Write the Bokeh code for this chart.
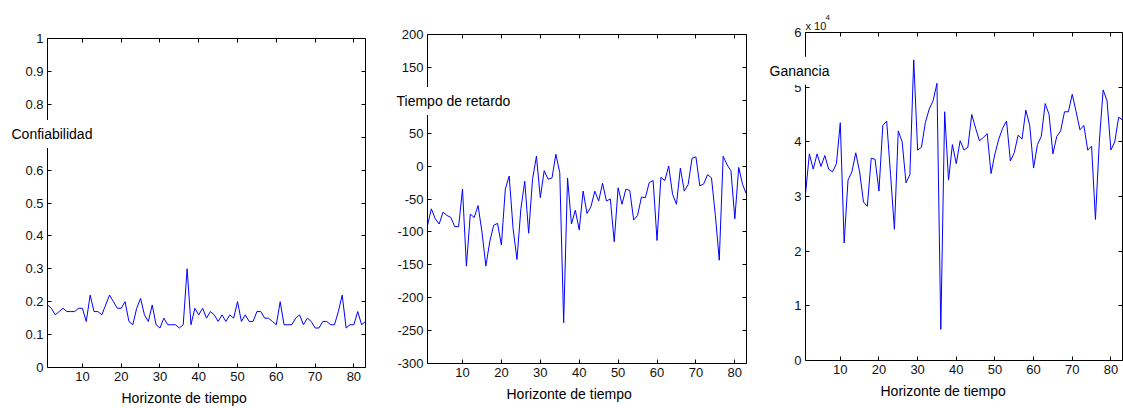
from bokeh.plotting import figure
from bokeh.layouts import row
from bokeh.models import LinearAxis, FixedTicker, CustomJSTickFormatter, Label, Range1d
from bokeh.embed import file_html
from bokeh.resources import INLINE

horizonte = list(range(1, 84))

confiabilidad = [0.19, 0.18, 0.16, 0.17, 0.18, 0.17, 0.17, 0.17, 0.18, 0.18,
                 0.14, 0.22, 0.17, 0.17, 0.16, 0.19, 0.22, 0.20, 0.18, 0.18,
                 0.20, 0.14, 0.13, 0.18, 0.21, 0.16, 0.14, 0.19, 0.13, 0.12,
                 0.15, 0.13, 0.13, 0.13, 0.12, 0.13, 0.30, 0.13, 0.18, 0.16,
                 0.18, 0.15, 0.17, 0.16, 0.14, 0.16, 0.14, 0.16, 0.15, 0.20,
                 0.14, 0.16, 0.14, 0.14, 0.17, 0.17, 0.15, 0.15, 0.14, 0.13,
                 0.20, 0.13, 0.13, 0.13, 0.15, 0.16, 0.13, 0.15, 0.14, 0.12,
                 0.12, 0.14, 0.14, 0.13, 0.13, 0.17, 0.22, 0.12, 0.13, 0.13,
                 0.17, 0.13, 0.14]

retardo = [-90, -65, -80, -88, -70, -75, -78, -92, -92, -35,
           -152, -73, -78, -60, -100, -152, -115, -90, -87, -120,
           -35, -15, -95, -142, -65, -23, -102, -20, 15, -48,
           -7, -20, -18, 18, -10, -238, -18, -88, -67, -97,
           -38, -72, -62, -38, -53, -26, -53, -50, -115, -33,
           -58, -35, -37, -82, -75, -47, -48, -25, -22, -113,
           -17, -22, 0, -43, -58, -3, -38, -28, 12, 14,
           -30, -27, -13, -18, -75, -143, 15, 2, -7, -80,
           -2, -28, -43]

ganancia = [30500, 37800, 35000, 37800, 35500, 37500, 35000, 34500, 36000, 43500,
            21500, 33000, 34500, 38000, 34500, 29000, 28200, 37000, 36800, 31000,
            43000, 43800, 34000, 24000, 42000, 40000, 32500, 34000, 55000, 38500,
            39000, 43500, 46000, 47500, 50700, 5700, 45500, 33000, 39500, 36000,
            40200, 38500, 39000, 45000, 42500, 40200, 40800, 41500, 34200, 37800,
            40500, 42500, 43800, 36500, 38000, 41200, 40500, 45800, 43000, 35200,
            39500, 41000, 47000, 45000, 37800, 41000, 42000, 45500, 45500, 48700,
            45500, 42200, 43000, 38500, 39200, 25800, 40000, 49500, 47500, 38500,
            40000, 44500, 44000]

x_ticks = [10, 20, 30, 40, 50, 60, 70, 80]
y1_ticks = [0, 0.1, 0.2, 0.3, 0.4, 0.5, 0.6, 0.7, 0.8, 0.9, 1]
y2_ticks = [-300, -250, -200, -150, -100, -50, 0, 50, 100, 150, 200]
y3_ticks = [0, 10000, 20000, 30000, 40000, 50000, 60000]

TICK_FONT = "Liberation Sans Narrow, Liberation Sans"
LABEL_FONT = "Liberation Sans"
H = 408
X0, X1 = 1, 83
PAD = 6


def make_panel(y, y0, y1, y_ticks, fmt_code, W, L, R, T, B,
               ylabel, ylabel_y, ylabel_dx, xlabel_dx):
    # ranges chosen so that the box [X0,X1]x[y0,y1] sits at pixels L..R / T..B
    sx = (X1 - X0) / (R - L)
    sy = (y1 - y0) / (B - T)
    xr = Range1d(X0 - L * sx, X1 + (W - R) * sx)
    yr = Range1d(y0 - (H - B) * sy, y1 + T * sy)
    p = figure(width=W, height=H, min_border=0,
               min_border_left=0, min_border_right=0,
               min_border_top=0, min_border_bottom=0,
               x_range=xr, y_range=yr,
               output_backend="svg", toolbar_location=None,
               x_axis_location=None, y_axis_location=None)
    p.outline_line_color = None
    p.xgrid.visible = False
    p.ygrid.visible = False
    p.background_fill_color = "white"
    p.border_fill_color = "white"

    fmt = CustomJSTickFormatter(code=fmt_code)
    xfmt = CustomJSTickFormatter(code="return tick.toString();")
    specs = [("below", y0, True), ("above", y1, False),
             ("left", X0, True), ("right", X1, False)]
    for loc, fixed, labelled in specs:
        ax = LinearAxis(fixed_location=fixed)
        if loc in ("below", "above"):
            ax.ticker = FixedTicker(ticks=x_ticks)
            ax.formatter = xfmt
            ax.bounds = (X0, X1)
        else:
            ax.ticker = FixedTicker(ticks=y_ticks)
            ax.formatter = fmt
            ax.bounds = (y0, y1)
        ax.major_tick_in = 4
        ax.major_tick_out = 0
        ax.minor_tick_line_color = None
        ax.axis_line_color = "black"
        ax.axis_line_width = 1
        ax.major_tick_line_color = "black"
        ax.major_label_text_font = TICK_FONT
        ax.major_label_text_font_size = "13px"
        ax.major_label_text_color = "#111111" if labelled else None
        ax.major_label_standoff = 4
        p.add_layout(ax, loc)

    p.line(horizonte, y, line_color="#0000ff", line_width=1)

    p.add_layout(Label(x=X0, y=ylabel_y, x_offset=ylabel_dx - PAD, text=ylabel,
                       text_font=LABEL_FONT, text_font_size="14px",
                       text_align="left", text_baseline="middle",
                       text_color="black", background_fill_color="white",
                       padding=PAD))
    p.add_layout(Label(x=X0, y=y0, x_offset=xlabel_dx, y_offset=-22,
                       text="Horizonte de tiempo",
                       text_font=LABEL_FONT, text_font_size="14px",
                       text_align="left", text_baseline="top", text_color="black"))
    return p


p1 = make_panel(confiabilidad, 0, 1, y1_ticks, "return tick.toString();",
                380, 47, 365, 38, 367, "Confiabilidad", 0.71, -36, 74)
p2 = make_panel(retardo, -300, 200, y2_ticks, "return tick.toString();",
                380, 47, 366, 34, 363, "Tiempo de retardo", 99, -31, 79)
p3 = make_panel(ganancia, 0, 60000, y3_ticks, "return (tick/10000).toString();",
                363, 45, 362, 32, 360, "Ganancia", 53000, -36, 75)
p3.add_layout(Label(x=X0, y=60000, y_offset=7, text="x 10", text_font=TICK_FONT,
                    text_font_size="11px", text_align="left",
                    text_baseline="alphabetic", text_color="#111111"))
p3.add_layout(Label(x=X0, y=60000, x_offset=20, y_offset=15, text="4", text_font=TICK_FONT,
                    text_font_size="8px", text_align="left",
                    text_baseline="alphabetic", text_color="#111111"))

layout = row(p1, p2, p3, spacing=0)
open("out.html", "w").write(file_html(layout, INLINE))
